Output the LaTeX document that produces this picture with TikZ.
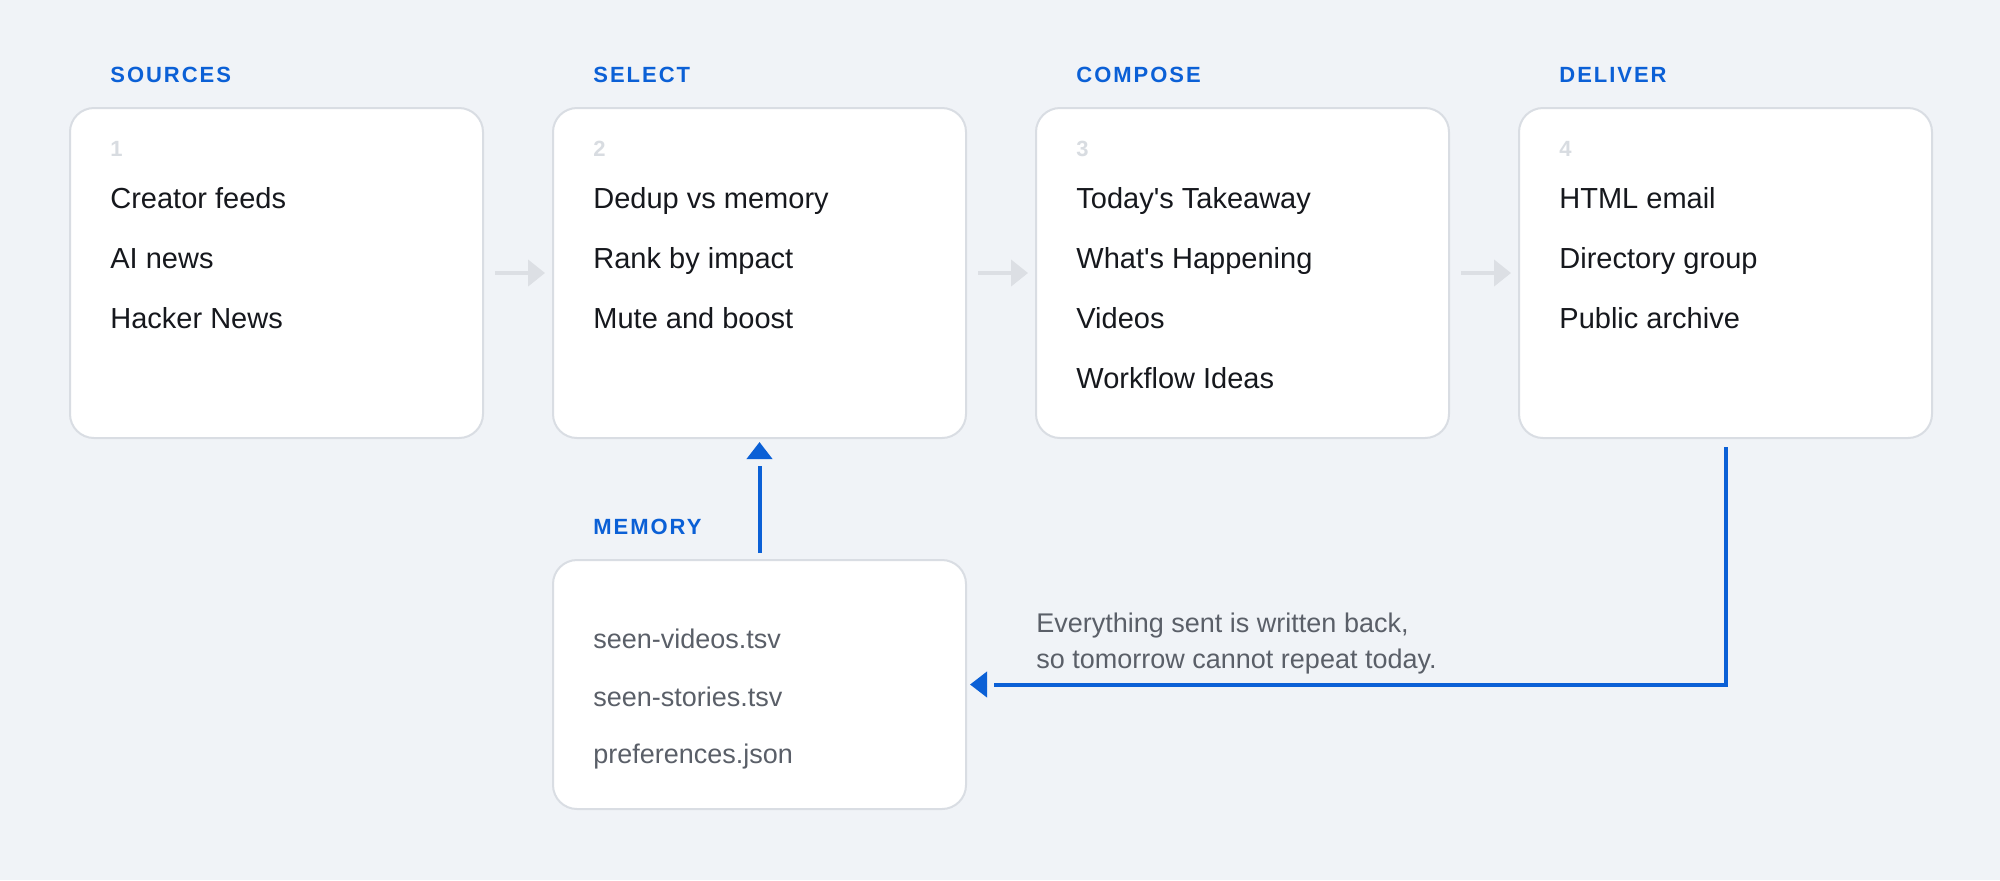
\documentclass[tikz,border=0pt]{standalone}
\usepackage{fontspec}
\setmainfont{Liberation Sans}
\newfontfamily\hdrfont{Liberation Sans}[LetterSpace=9]
\usetikzlibrary{arrows.meta}
\definecolor{bgc}{HTML}{F0F3F7}
\definecolor{bordc}{HTML}{D9DDE3}
\definecolor{bluec}{HTML}{0B60D6}
\definecolor{numc}{HTML}{D8DCE1}
\definecolor{inkc}{HTML}{16181D}
\definecolor{softc}{HTML}{5A5F68}
\definecolor{flowc}{HTML}{DCDFE4}
\tikzset{
  stagebox/.style={draw=bordc, line width=1pt, fill=white, rounded corners=12pt,
    minimum width=206.5pt, minimum height=165pt, outer sep=0pt, inner sep=0pt},
  membox/.style={stagebox, minimum height=124.5pt},
  hdr/.style={anchor=base west, inner sep=0pt, text=bluec, font=\hdrfont\bfseries\fontsize{11}{13}\selectfont},
  num/.style={anchor=base west, inner sep=0pt, text=numc, font=\bfseries\fontsize{11}{13}\selectfont},
  item/.style={anchor=base west, inner sep=0pt, text=inkc, font=\fontsize{14.5}{17}\selectfont},
  memitem/.style={anchor=base west, inner sep=0pt, text=softc, font=\fontsize{13.5}{16}\selectfont},
  flow/.style={draw=flowc, line width=2pt, -{Triangle[width=13pt,length=8.5pt]}, shorten <=6pt, shorten >=4pt},
  fbline/.style={draw=bluec, line width=2pt, shorten >=14pt},
  fbtip/.style={draw=bluec, line width=2pt, -{Triangle[width=12.5pt,length=8.5pt]}, shorten >=2pt}
}
\begin{document}
\begin{tikzpicture}[x=0.5pt,y=-0.5pt]
\fill[bgc] (0,0) rectangle (2000,880);
\useasboundingbox (0,0) rectangle (2000,880);

% stage boxes
\node[stagebox] (b1) at (276.5,273) {};
\node[stagebox] (b2) at (759.5,273) {};
\node[stagebox] (b3) at (1242.5,273) {};
\node[stagebox] (b4) at (1725.5,273) {};
\node[membox] (mem) at (759.5,684.5) {};

% headers
\node[hdr] (h1) at (110,82) {SOURCES};
\node[hdr] (h2) at (593,82) {SELECT};
\node[hdr] (h3) at (1076,82) {COMPOSE};
\node[hdr] (h4) at (1559,82) {DELIVER};
\node[hdr] (h5) at (593,534) {MEMORY};

% numbers
\node[num] (n1) at (110,156) {1};
\node[num] (n2) at (593,156) {2};
\node[num] (n3) at (1076,156) {3};
\node[num] (n4) at (1559,156) {4};

% items
\node[item] (a1) at (110,208) {Creator feeds};
\node[item] (a2) at (110,268) {AI news};
\node[item] (a3) at (110,328) {Hacker News};

\node[item] (s1) at (593,208) {Dedup vs memory};
\node[item] (s2) at (593,268) {Rank by impact};
\node[item] (s3) at (593,328) {Mute and boost};

\node[item] (c1) at (1076,208) {Today\textquotesingle s Takeaway};
\node[item] (c2) at (1076,268) {What\textquotesingle s Happening};
\node[item] (c3) at (1076,328) {Videos};
\node[item] (c4) at (1076,388) {Workflow Ideas};

\node[item] (d1) at (1559,208) {HTML email};
\node[item] (d2) at (1559,268) {Directory group};
\node[item] (d3) at (1559,328) {Public archive};

% memory items
\node[memitem] (m1) at (593,648) {seen-videos.tsv};
\node[memitem] (m2) at (593,706) {seen-stories.tsv};
\node[memitem] (m3) at (593,763) {preferences.json};

% caption
\node[memitem, align=left, font=\fontsize{13.5}{18}\selectfont] (cap) at (1036,668)
  {Everything sent is written back,\\so tomorrow cannot repeat today.};

% flow arrows
\draw[flow] (b1) -- (b2);
\draw[flow] (b2) -- (b3);
\draw[flow] (b3) -- (b4);

% feedback: memory -> select
\draw[fbline, shorten <=3.5pt] (mem.north) -- (b2.south);
\draw[fbtip, shorten <=50.5pt] (mem.north) -- (b2.south);

% feedback: deliver -> memory
\coordinate (turn) at (b4.south |- mem.east);
\draw[fbline, shorten <=4.5pt] (b4.south) |- (mem.east);
\draw[fbtip, shorten <=369.25pt] (turn) -- (mem.east);
\end{tikzpicture}
\end{document}
